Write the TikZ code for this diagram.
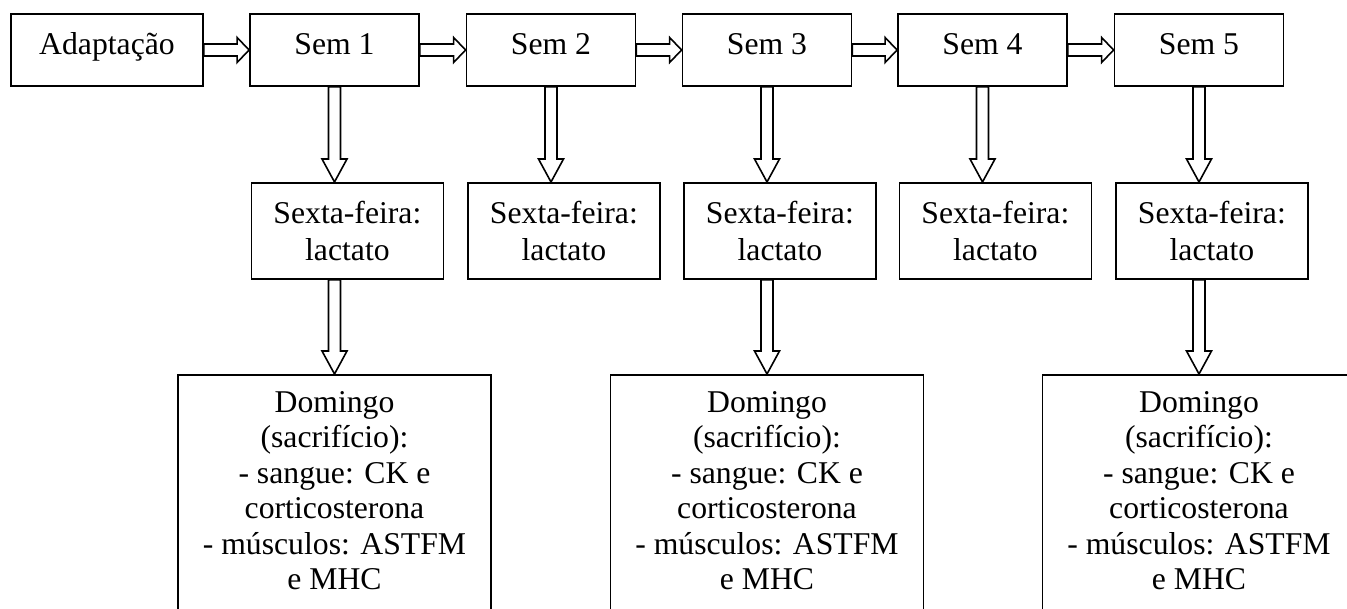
\documentclass[tikz,border=0pt]{standalone}
\usepackage{fontspec}
\setmainfont{Liberation Serif}
\usetikzlibrary{calc}
\tikzset{
  box/.style={draw, line width=1.8pt, inner sep=0pt, align=center,
    font=\fontsize{31.7}{37}\selectfont},
  sembox/.style={box, minimum width=169pt, minimum height=72pt, text height=22pt, text depth=13pt},
  adaptbox/.style={sembox, minimum width=192pt},
  sextabox/.style={box, minimum width=192pt, minimum height=96pt},
  dombox/.style={draw, line width=1.8pt, inner sep=0pt, minimum width=313pt, minimum height=300pt},
  domtext/.style={inner sep=0pt, align=center, font=\fontsize{31.7}{35.5}\selectfont},
  barrow/.style={draw, line width=1.6pt, fill=white, line join=miter},
}
\newcommand\harrow[2]{\draw[barrow] let \p1=(#1.east), \p2=(#2.west) in
  (\x1,\y1+6pt) -- (\x2-12pt,\y1+6pt) -- (\x2-12pt,\y1+12.5pt) -- (\x2,\y1)
  -- (\x2-12pt,\y1-12.5pt) -- (\x2-12pt,\y1-6pt) -- (\x1,\y1-6pt) -- cycle;}
\newcommand\varrow[2]{\draw[barrow] let \p1=#1, \p2=#2 in
  (\x1-6pt,\y1) -- (\x1-6pt,\y2+23pt) -- (\x1-12.5pt,\y2+23pt) -- (\x1,\y2)
  -- (\x1+12.5pt,\y2+23pt) -- (\x1+6pt,\y2+23pt) -- (\x1+6pt,\y1) -- cycle;}
\begin{document}
\begin{tikzpicture}[x=1pt,y=-1pt]
\useasboundingbox (0,0) rectangle (1347,609);
\fill[white] (0,0) rectangle (1347,609);
\clip (0,0) rectangle (1347,609);
% top row
\node[adaptbox] (adapt) at (107,50) {Adaptação};
\node[sembox] (sem1) at (334.5,50) {Sem 1};
\node[sembox] (sem2) at (551,50) {Sem 2};
\node[sembox] (sem3) at (767,50) {Sem 3};
\node[sembox] (sem4) at (982.5,50) {Sem 4};
\node[sembox] (sem5) at (1199,50) {Sem 5};
% second row
\node[sextabox, anchor=north west] (sx1) at (250.5,182) {Sexta-feira:\\lactato};
\node[sextabox, anchor=north west] (sx2) at (467,182) {Sexta-feira:\\lactato};
\node[sextabox, anchor=north west] (sx3) at (683,182) {Sexta-feira:\\lactato};
\node[sextabox, anchor=north west] (sx4) at (898.5,182) {Sexta-feira:\\lactato};
\node[sextabox, anchor=north west] (sx5) at (1115,182) {Sexta-feira:\\lactato};
% third row
\node[dombox, anchor=north] (dom1) at (334.5,374) {};
\node[dombox, anchor=north] (dom3) at (767,374) {};
\node[dombox, anchor=north] (dom5) at (1199,374) {};
\foreach \d in {dom1,dom3,dom5}{
  \node[domtext, anchor=north] at ([yshift=-17pt]\d.north)
    {Domingo\\(sacrifício):\\- sangue: CK e\\corticosterona\\- músculos: ASTFM\\e MHC};
}
% horizontal arrows
\harrow{adapt}{sem1}
\harrow{sem1}{sem2}
\harrow{sem2}{sem3}
\harrow{sem3}{sem4}
\harrow{sem4}{sem5}
% vertical arrows
\varrow{(sem1.south)}{(sem1.south |- sx1.north)}
\varrow{(sem2.south)}{(sem2.south |- sx2.north)}
\varrow{(sem3.south)}{(sem3.south |- sx3.north)}
\varrow{(sem4.south)}{(sem4.south |- sx4.north)}
\varrow{(sem5.south)}{(sem5.south |- sx5.north)}
\varrow{(dom1.north |- sx1.south)}{(dom1.north)}
\varrow{(dom3.north |- sx3.south)}{(dom3.north)}
\varrow{(dom5.north |- sx5.south)}{(dom5.north)}
\end{tikzpicture}
\end{document}
